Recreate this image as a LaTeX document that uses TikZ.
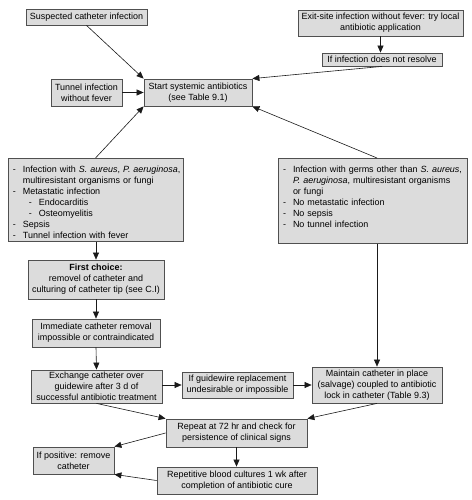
\documentclass[tikz,border=0pt]{standalone}
\usepackage{fontspec}
\setmainfont{Liberation Sans}
\usepackage{tikz}
\usetikzlibrary{arrows.meta}
\definecolor{mBoxGray}{HTML}{DCDCDC}
\definecolor{mEdgeGray}{HTML}{505050}
\definecolor{mArrowDark}{HTML}{1A1A1A}
\newcommand{\dashitem}[2][0bp]{\par\noindent\hangindent=\dimexpr#1+10bp\relax\hangafter=1\hspace*{#1}\makebox[10bp][l]{-}#2}

\begin{document}
\begin{tikzpicture}[x=1bp,y=-1bp,font=\fontsize{9}{11}\selectfont,
  box/.style={draw=mEdgeGray,fill=mBoxGray,line width=0.8bp,align=center,inner sep=1.5bp},
  listbox/.style={draw=mEdgeGray,fill=mBoxGray,line width=0.8bp,align=left,inner xsep=5bp,inner ysep=3bp,anchor=north},
  arr/.style={-{Triangle[length=7bp,width=6bp]},mArrowDark,line width=0.6bp}]
\useasboundingbox (0,0) rectangle (472,500);
% top row
\node[box,minimum width=121bp,minimum height=16bp] (susp) at (86.5,17) {Suspected catheter infection};
\node[box,minimum width=165bp,minimum height=26bp] (exit) at (380.5,23) {Exit-site infection without fever: try local\\antibiotic application};
\node[box,minimum width=120bp,minimum height=13bp] (ifres) at (382,59.5) {If infection does not resolve};
\node[box,minimum width=71bp,minimum height=27bp] (tunnel) at (86.5,92.5) {Tunnel infection\\without fever};
\node[box,minimum width=108bp,minimum height=27bp] (start) at (198,92.5) {Start systemic antibiotics\\(see Table 9.1)};
% two lists
\node[listbox,text width=165bp,minimum height=82bp] (leftlist) at (95.5,158) {%
  \dashitem{\mbox{Infection with \textit{S. aureus}, \textit{P. aeruginosa},}\newline \mbox{multiresistant organisms or fungi}}
  \dashitem{Metastatic infection}
  \dashitem[16bp]{Endocarditis}
  \dashitem[16bp]{Osteomyelitis}
  \dashitem{Sepsis}
  \dashitem{Tunnel infection with fever}};
\node[listbox,text width=179bp,minimum height=82bp] (rightlist) at (372.5,158) {%
  \dashitem{\mbox{Infection with germs other than \textit{S. aureus},}\newline \mbox{\textit{P. aeruginosa}, multiresistant organisms}\newline or fungi}
  \dashitem{No metastatic infection}
  \dashitem{No sepsis}
  \dashitem{No tunnel infection}
  \par\noindent\rule{0pt}{12bp}};
% left column
\node[box,minimum width=136bp,minimum height=39bp] (first) at (96,279.5) {\textbf{First choice:}\\removel of catheter and\\culturing of catheter tip (see C.I)};
\node[box,minimum width=128bp,minimum height=28bp] (immed) at (96,333) {Immediate catheter removal\\impossible or contraindicated};
\node[box,minimum width=131bp,minimum height=33bp] (exch) at (96.5,386.5) {Exchange catheter over\\guidewire after 3 d of\\successful antibiotic treatment};
\node[box,minimum width=111bp,minimum height=26bp] (guide) at (237.5,385) {If guidewire replacement\\undesirable or impossible};
\node[box,minimum width=130bp,minimum height=36bp] (maint) at (377,385) {Maintain catheter in place\\(salvage) coupled to antibiotic\\lock in catheter (Table 9.3)};
% bottom
\node[box,minimum width=141bp,minimum height=28bp] (repeat) at (236.5,433) {Repeat at 72 hr and check for\\persistence of clinical signs};
\node[box,minimum width=81bp,minimum height=27bp] (ifpos) at (73.5,460.5) {If positive: remove\\catheter};
\node[box,minimum width=160bp,minimum height=27bp] (repet) at (237,480.5) {Repetitive blood cultures 1 wk after\\completion of antibiotic cure};
% arrows
\draw[arr] (susp.south) -- (start.north west);
\draw[arr] (tunnel.east) -- (start.west);
\draw[arr] (leftlist.north) -- (start.south west);
\draw[arr] (exit.south) -- (exit.south |- ifres.north);
\draw[arr] (ifres.south) -- (start.north east);
\draw[arr] (rightlist.north -| maint.north) -- (start.south east);
\draw[arr] (leftlist.south -| first.north) -- (first.north);
\draw[arr] (first.south) -- (immed.north);
\draw[arr] (immed.south) -- (exch.north);
\draw[arr] (rightlist.south -| maint.north) -- (maint.north);
\draw[arr] (exch.east |- guide.west) -- (guide.west);
\draw[arr] (guide.east) -- (maint.west);
\draw[arr] (exch.south) -- (repeat.north west);
\draw[arr] (maint.south) -- (repeat.north east);
\draw[arr] (repeat.west) -- (ifpos.north east);
\draw[arr] (repeat.south) -- (repeat.south |- repet.north);
\draw[arr] (repet.west) -- (ifpos.south east);
\end{tikzpicture}
\end{document}
